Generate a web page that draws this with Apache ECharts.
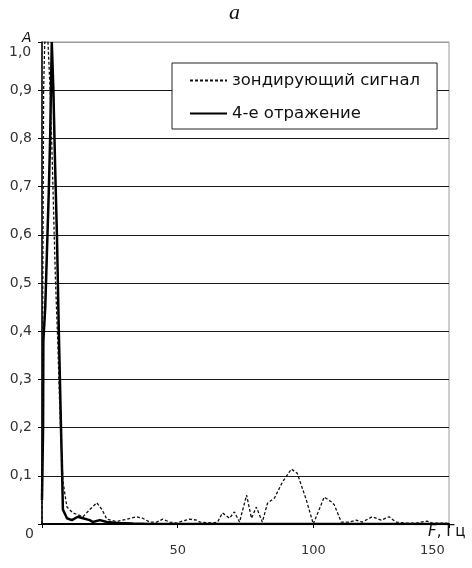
<!DOCTYPE html>
<html>
<head>
<meta charset="utf-8">
<script src="https://cdn.jsdelivr.net/npm/echarts@6/dist/echarts.min.js"></script>
<style>
  html, body { margin: 0; padding: 0; background: #fff; }
  #chart { width: 472px; height: 568px; }
</style>
</head>
<body>
<div id="chart"></div>
<script>
// зондирующий сигнал (dashed)
const probeF = [0, 0.3, 0.6, 1.0, 2.2, 3.0, 3.8, 4.5, 5.0, 5.8, 6.5, 7.2, 7.7, 8.5, 9.2, 11.4, 15.1, 17.6, 20.2, 22.1, 23.9, 27.6, 31.2, 34.9, 37.1, 39.7, 42.3, 44.5, 47.1, 49.6, 51.8, 54.4, 57.0, 58.1, 62.9, 64.7, 66.5, 69.1, 70.9, 72.8, 75.4, 77.2, 79.0, 81.2, 83.1, 85.7, 88.6, 91.9, 94.1, 97.4, 100.0, 104.0, 106.6, 107.7, 110.3, 113.2, 115.8, 118.0, 121.7, 125.0, 127.9, 130.5, 134.2, 137.9, 141.9, 143.8, 149.3];
const probeA = [0, 0.5, 0.9, 1.0, 1.0, 0.9, 0.75, 0.6, 0.5, 0.38, 0.25, 0.15, 0.09, 0.06, 0.035, 0.023, 0.015, 0.03, 0.044, 0.03, 0.01, 0.005, 0.01, 0.015, 0.012, 0.004, 0.004, 0.01, 0.004, 0.002, 0.006, 0.01, 0.008, 0.004, 0.002, 0.004, 0.023, 0.012, 0.025, 0.004, 0.06, 0.012, 0.035, 0.004, 0.043, 0.054, 0.087, 0.114, 0.105, 0.05, 0, 0.056, 0.046, 0.04, 0.004, 0.004, 0.008, 0.004, 0.015, 0.008, 0.015, 0.004, 0.002, 0.002, 0.006, 0.002, 0.002];
// 4-е отражение (solid)
const echoF = [0, 0.4, 0.5, 1.2, 2.5, 3.0, 3.3, 3.6, 4.0, 4.2, 4.8, 5.5, 6.2, 6.6, 7.0, 7.4, 7.7, 9.2, 11.0, 13.2, 15.1, 17.6, 18.7, 21.3, 23.9, 27.6, 33.5, 40, 150];
const echoA = [0.05, 0.2, 0.38, 0.45, 0.69, 0.8, 0.9, 1.0, 1.0, 0.9, 0.75, 0.6, 0.4, 0.3, 0.2, 0.11, 0.03, 0.012, 0.008, 0.015, 0.012, 0.008, 0.004, 0.008, 0.004, 0.002, 0.001, 0, 0];

const seriesNames = ['зондирующий сигнал', '4-е отражение'];

const toPairs = (xs, ys) => xs.map((x, i) => [x, ys[i]]);

const chart = echarts.init(document.getElementById('chart'), null, { renderer: 'canvas' });
const font = 'DejaVu Sans, Arial, sans-serif';

// grid lines black, the top one (1,0) gray like the frame
const splitColors = ['#1a1a1a', '#1a1a1a', '#1a1a1a', '#1a1a1a', '#1a1a1a', '#1a1a1a', '#1a1a1a', '#1a1a1a', '#1a1a1a', '#1a1a1a', '#9a9a9a'];

const option = {
  backgroundColor: '#fff',
  animation: false,
  grid: {
    left: 42, right: 23, top: 42, bottom: 44,
    show: true, borderColor: '#9a9a9a', borderWidth: 1
  },
  legend: {
    orient: 'vertical',
    left: 172, top: 63,
    padding: [9, 17, 7, 17],
    itemWidth: 37, itemHeight: 14, itemGap: 16,
    backgroundColor: '#fff',
    borderColor: '#222', borderWidth: 1,
    itemStyle: { opacity: 0 },
    textStyle: { fontFamily: font, fontSize: 16.5, color: '#111' },
    data: seriesNames
  },
  xAxis: {
    type: 'value',
    min: 0, max: 150, interval: 50,
    axisLine: { show: true, onZero: false, lineStyle: { color: '#000', width: 2 } },
    axisTick: { show: true, length: 4, lineStyle: { color: '#000' } },
    splitLine: { show: false },
    axisLabel: {
      fontFamily: font, fontSize: 13, color: '#333', margin: 20,
      formatter: v => (v === 0 || v === 150 ? '' : String(v))
    }
  },
  yAxis: {
    type: 'value',
    min: 0, max: 1, interval: 0.1,
    axisLine: { show: true, lineStyle: { color: '#000', width: 1.5 } },
    axisTick: { show: true, length: 4, lineStyle: { color: '#000' } },
    splitLine: { show: true, lineStyle: { color: splitColors, width: 1 } },
    axisLabel: {
      fontFamily: font, fontSize: 14, color: '#333', margin: 10,
      formatter: v => (v === 0 || v === 1 ? '' : v.toFixed(1).replace('.', ','))
    }
  },
  series: [
    {
      name: seriesNames[0],
      type: 'line',
      data: toPairs(probeF, probeA),
      symbol: 'none',
      lineStyle: { color: '#111', width: 1.3, type: [3, 2] },
      itemStyle: { color: '#111' },
      z: 3
    },
    {
      name: seriesNames[1],
      type: 'line',
      data: toPairs(echoF, echoA),
      symbol: 'none',
      lineStyle: { color: '#000', width: 2.5 },
      itemStyle: { color: '#000' },
      z: 2
    }
  ],
  graphic: [
    { type: 'text', left: 229, top: 2, style: { text: 'a', fontFamily: 'Liberation Serif, serif', fontStyle: 'italic', fontSize: 22, fill: '#111' } },
    { type: 'text', left: 22, top: 31, style: { text: 'A', fontFamily: font, fontStyle: 'italic', fontSize: 14, fill: '#111' } },
    { type: 'text', left: 9, top: 45, style: { text: '1,0', fontFamily: font, fontSize: 14, fill: '#333' } },
    { type: 'text', left: 25, top: 527, style: { text: '0', fontFamily: font, fontSize: 14, fill: '#333' } },
    { type: 'text', left: 420, top: 544, style: { text: '150', fontFamily: font, fontSize: 13, fill: '#333' } },
    {
      type: 'text', left: 428, top: 525,
      style: {
        text: '{f|F}{r|, Гц}',
        rich: {
          f: { fontFamily: font, fontStyle: 'italic', fontSize: 15, fill: '#111' },
          r: { fontFamily: font, fontSize: 15, fill: '#111' }
        }
      }
    }
  ]
};

chart.setOption(option);
</script>
</body>
</html>
